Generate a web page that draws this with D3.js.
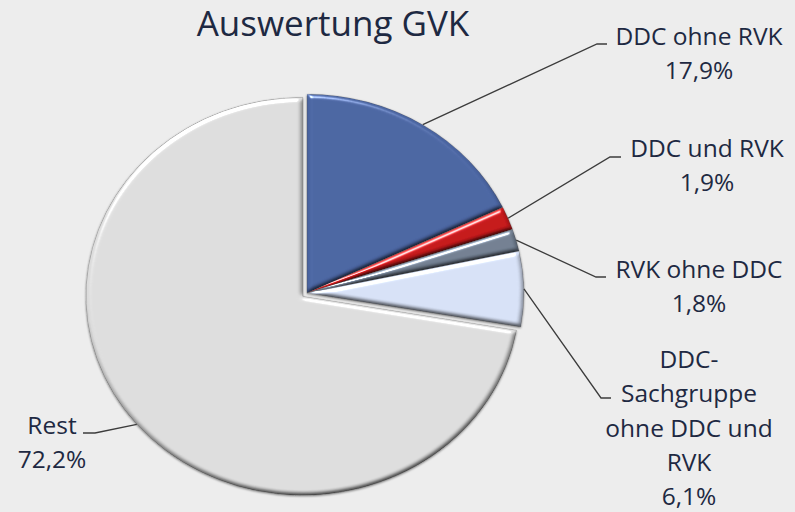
<!DOCTYPE html>
<html>
<head>
<meta charset="utf-8">
<script src="https://cdn.jsdelivr.net/npm/d3@7"></script>
<style>
  html, body { margin: 0; padding: 0; background: #ededed; }
  #chart { width: 795px; height: 512px; }
</style>
</head>
<body>
<div id="chart"></div>
<script>
// Daten
const categories = ['DDC ohne RVK', 'DDC und RVK', 'RVK ohne DDC', 'DDC-Sachgruppe ohne DDC und RVK', 'Rest'];
const values = [17.9, 1.9, 1.8, 6.1, 72.2];
const labelLines = [
  ['DDC ohne RVK'],
  ['DDC und RVK'],
  ['RVK ohne DDC'],
  ['DDC-', 'Sachgruppe', 'ohne DDC und', 'RVK'],
  ['Rest']
];
const colors = ['#4a64a0', '#c3181b', '#717e90', '#d5dff4', '#dbdbdb'];

// Layout der Beschriftungen (Textmitte, erste Grundlinie, Knick der Linie)
const labelLayout = [
  { x: 699, y: 45, elbow: [597, 44], end: 607 },
  { x: 707, y: 157, elbow: [610, 157], end: 621 },
  { x: 699, y: 278, elbow: [596, 277], end: 606 },
  { x: 689, y: 368, elbow: [601, 398], end: 611 },
  { x: 52, y: 434, elbow: [95, 433], end: 83 }
];

const W = 795, H = 512;
const cx = 307, cy = 293, rx = 217, ry = 199;
const lineH = 34.3;
const textColor = '#1e2942';

const svg = d3.select('#chart').append('svg')
  .attr('width', W).attr('height', H)
  .style('font-family', '"Open Sans", sans-serif');

svg.append('rect').attr('width', W).attr('height', H).attr('fill', '#ededed');

// Bevel-Filter: Schattierung (diffus) + Glanzlicht (spekular)
const defs = svg.append('defs');
const f = defs.append('filter').attr('id', 'bevel')
  .attr('x', '-10%').attr('y', '-10%').attr('width', '120%').attr('height', '120%')
  .attr('color-interpolation-filters', 'sRGB');
f.append('feGaussianBlur').attr('in', 'SourceAlpha').attr('stdDeviation', 2.2).attr('result', 'blur');
f.append('feDiffuseLighting').attr('in', 'blur').attr('surfaceScale', 2.2)
  .attr('diffuseConstant', 1 / Math.sin(55 * Math.PI / 180))
  .attr('lighting-color', '#ffffff').attr('result', 'diff')
  .append('feDistantLight').attr('azimuth', 250).attr('elevation', 55);
f.append('feComposite').attr('in', 'SourceGraphic').attr('in2', 'diff')
  .attr('operator', 'arithmetic').attr('k1', 1).attr('k2', 0).attr('k3', 0).attr('k4', 0)
  .attr('result', 'shaded');
f.append('feSpecularLighting').attr('in', 'blur').attr('surfaceScale', 3)
  .attr('specularConstant', 1).attr('specularExponent', 35)
  .attr('lighting-color', '#ffffff').attr('result', 'spec')
  .append('feDistantLight').attr('azimuth', 250).attr('elevation', 35);
f.append('feComposite').attr('in', 'spec').attr('in2', 'SourceAlpha')
  .attr('operator', 'in').attr('result', 'specIn');
f.append('feComposite').attr('in', 'shaded').attr('in2', 'specIn')
  .attr('operator', 'arithmetic').attr('k1', 0).attr('k2', 1).attr('k3', 0.8).attr('k4', 0)
  .attr('result', 'lit');
f.append('feComposite').attr('in', 'lit').attr('in2', 'SourceAlpha').attr('operator', 'in');

const shadow = defs.append('filter').attr('id', 'shadow')
  .attr('x', '-10%').attr('y', '-10%').attr('width', '120%').attr('height', '120%');
shadow.append('feDropShadow').attr('dx', 0).attr('dy', 1).attr('stdDeviation', 1.2)
  .attr('flood-color', '#000').attr('flood-opacity', 0.5);

// Titel
svg.append('text')
  .attr('x', 333).attr('y', 36)
  .attr('text-anchor', 'middle')
  .attr('fill', textColor)
  .style('font-size', '35px')
  .text('Auswertung GVK');

// Kreisdiagramm
const pie = d3.pie().sort(null).value(d => d)(values);
const arc = d3.arc().innerRadius(0).outerRadius(ry);
const explode = [0, 0, 0, 0, 5];

const g = svg.append('g')
  .attr('transform', `translate(${cx},${cy}) scale(${rx / ry},1)`)
  .attr('filter', 'url(#shadow)');

g.selectAll('path.slice')
  .data(pie)
  .enter().append('path')
  .attr('class', 'slice')
  .attr('transform', (d, i) => {
    const a = (d.startAngle + d.endAngle) / 2;
    return `translate(${Math.sin(a) * explode[i]},${-Math.cos(a) * explode[i]})`;
  })
  .attr('d', arc)
  .attr('fill', (d, i) => colors[i])
  .attr('stroke', 'rgba(70,70,70,0.5)')
  .attr('stroke-width', 0.7)
  .attr('filter', 'url(#bevel)');

// Ankerpunkte am Rand
function anchor(d, i) {
  const a = (d.startAngle + d.endAngle) / 2;
  const r = ry + explode[i];
  return [cx + Math.sin(a) * r * rx / ry, cy - Math.cos(a) * r];
}

// Führungslinien
svg.selectAll('path.leader')
  .data(pie)
  .enter().append('path')
  .attr('class', 'leader')
  .attr('d', (d, i) => {
    const p = anchor(d, i);
    const L = labelLayout[i];
    return `M${p[0]},${p[1]}L${L.elbow[0]},${L.elbow[1]}L${L.end},${L.elbow[1]}`;
  })
  .attr('fill', 'none')
  .attr('stroke', '#3c3c3c')
  .attr('stroke-width', 1.3);

// Beschriftungen
const fmt = v => v.toFixed(1).replace('.', ',') + '%';
pie.forEach((d, i) => {
  const L = labelLayout[i];
  const t = svg.append('text')
    .attr('text-anchor', 'middle')
    .attr('fill', textColor)
    .style('font-size', '24.5px');
  const lines = labelLines[i].concat([fmt(values[i])]);
  lines.forEach((s, k) => {
    t.append('tspan').attr('x', L.x).attr('y', L.y + k * lineH).text(s);
  });
});
</script>
</body>
</html>
